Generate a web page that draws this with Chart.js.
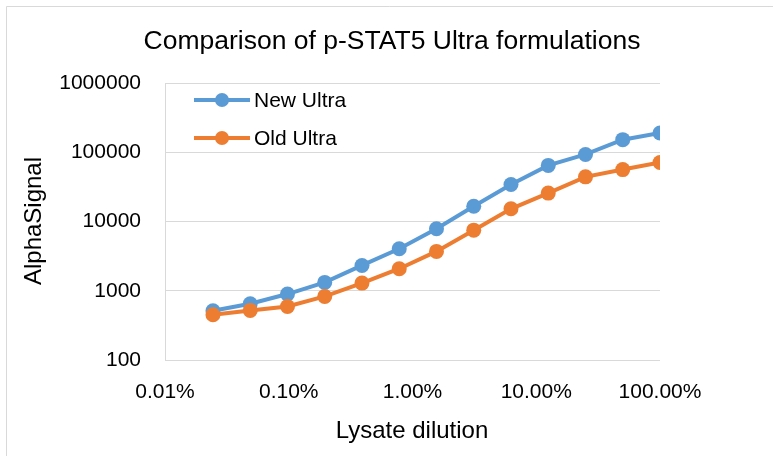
<!DOCTYPE html>
<html>
<head>
<meta charset="utf-8">
<script src="https://cdn.jsdelivr.net/npm/chart.js@4/dist/chart.umd.min.js"></script>
<style>
  html, body { margin: 0; padding: 0; background: #fff; }
  canvas { display: block; }
</style>
</head>
<body>
<canvas id="chart" width="773" height="456"></canvas>
<script>
// lysate dilution (fraction of full lysate)
const dilution = [1, 0.5, 0.25, 0.125, 0.0625, 0.03125, 0.015625, 0.0078125,
  0.00390625, 0.001953125, 0.0009765625, 0.00048828125, 0.000244140625]
const newUltra = [190000, 152000, 93000, 64600, 34200, 16600, 7850, 4040, 2320, 1320, 896, 649, 514]
const oldUltra = [71000, 56200, 44100, 25700, 15250, 7500, 3700, 2080, 1290, 828, 593, 520, 450]
const xTicks = [0.0001, 0.001, 0.01, 0.1, 1]
const yTicks = [100, 1000, 10000, 100000, 1000000]

const BLUE = '#5b9bd5'
const ORANGE = '#ed7d31'
const FONT = '"Liberation Sans", Arial, sans-serif'

const decor = {
  id: 'decor',
  beforeDraw(chart) {
    const c = chart.ctx
    c.save()
    c.fillStyle = '#fff'
    c.fillRect(0, 0, chart.width, chart.height)
    c.strokeStyle = '#d9d9d9'
    c.lineWidth = 1
    c.beginPath()
    c.moveTo(6.5, chart.height)
    c.lineTo(6.5, 6.5)
    c.lineTo(chart.width, 6.5)
    c.stroke()
    c.restore()
  },
  afterDraw(chart) {
    const c = chart.ctx
    c.save()
    c.fillStyle = '#000'
    c.textBaseline = 'middle'

    c.textAlign = 'center'
    c.font = '26.5px ' + FONT
    c.fillText('Comparison of p-STAT5 Ultra formulations', 392, 42)

    c.font = '24px ' + FONT
    c.fillText('Lysate dilution', 412, 431)
    c.save()
    c.translate(34, 221)
    c.rotate(-Math.PI / 2)
    c.fillText('AlphaSignal', 0, 0)
    c.restore()

    // legend sits inside the plot area
    c.font = '21px ' + FONT
    c.textAlign = 'left'
    chart.data.datasets.forEach((ds, i) => {
      const y = 100 + i * 38
      c.strokeStyle = ds.borderColor
      c.lineWidth = 4
      c.beginPath()
      c.moveTo(194, y)
      c.lineTo(250, y)
      c.stroke()
      c.fillStyle = ds.borderColor
      c.beginPath()
      c.arc(222, y, 7, 0, Math.PI * 2)
      c.fill()
      c.fillStyle = '#000'
      c.fillText(ds.label, 254, y + 1)
    })
    c.restore()
  }
}

new Chart(document.getElementById('chart'), {
  type: 'line',
  data: {
    datasets: [
      {
        label: 'New Ultra',
        data: dilution.map((x, i) => ({ x, y: newUltra[i] })),
        borderColor: BLUE, backgroundColor: BLUE,
        borderWidth: 4, pointRadius: 7.5, pointBorderWidth: 0,
        tension: 0, order: 1
      },
      {
        label: 'Old Ultra',
        data: dilution.map((x, i) => ({ x, y: oldUltra[i] })),
        borderColor: ORANGE, backgroundColor: ORANGE,
        borderWidth: 4, pointRadius: 7.5, pointBorderWidth: 0,
        tension: 0, order: 0
      }
    ]
  },
  options: {
    responsive: false,
    animation: false,
    layout: { padding: { top: 83, right: 113, left: 0, bottom: 0 } },
    scales: {
      x: {
        type: 'logarithmic', min: 0.0001, max: 1,
        grid: { display: false },
        border: { display: false },
        ticks: {
          color: '#000', font: { family: FONT, size: 21 }, padding: 12,
          maxRotation: 0, autoSkip: false,
          callback: v => (v * 100).toFixed(2) + '%'
        },
        afterBuildTicks: s => { s.ticks = xTicks.map(v => ({ value: v })) },
        afterFit: s => { s.height = 96 }
      },
      y: {
        type: 'logarithmic', min: 100, max: 1000000,
        grid: { color: '#d9d9d9', lineWidth: 1, drawTicks: false },
        border: { display: true, color: '#d9d9d9', width: 1 },
        ticks: {
          color: '#000', font: { family: FONT, size: 21 }, padding: 24,
          autoSkip: false,
          callback: v => String(v)
        },
        afterBuildTicks: s => { s.ticks = yTicks.map(v => ({ value: v })) },
        afterFit: s => { s.width = 165 }
      }
    },
    plugins: {
      legend: { display: false },
      title: { display: false },
      tooltip: { enabled: false }
    }
  },
  plugins: [decor]
})
</script>
</body>
</html>
